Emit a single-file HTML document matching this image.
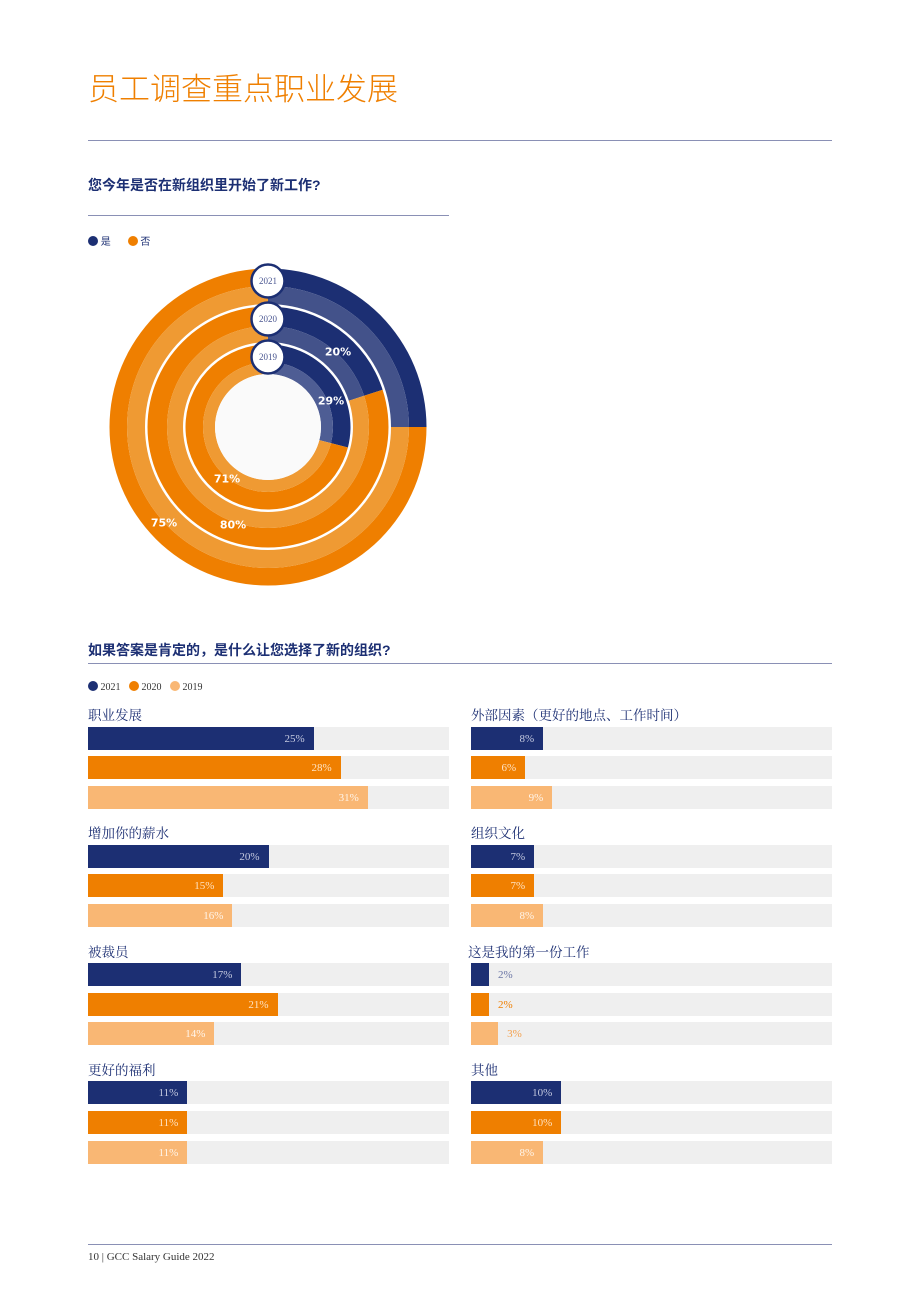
<!DOCTYPE html>
<html><head><meta charset="utf-8">
<style>
body{margin:0;background:#fff;}
#page{position:relative;width:920px;height:1302px;overflow:hidden;font-family:"Liberation Sans","Noto Sans CJK SC",sans-serif;}
.abs{position:absolute;}
.ser{font-family:"Liberation Serif","Noto Serif CJK SC",serif;}
</style></head><body>
<div id="page">
<div class="abs" style="left:88px;top:64px;font-size:31px;color:#ef7f00;font-family:'Liberation Sans','Noto Sans CJK SC',sans-serif;font-weight:300;">员工调查重点职业发展</div>
<div class="abs" style="left:88px;top:140px;width:744px;height:1px;background:#8a90b5;"></div>
<div class="abs" style="left:88px;top:175px;font-size:14px;font-weight:bold;color:#1c2f73;">您今年是否在新组织里开始了新工作?</div>
<div class="abs" style="left:88px;top:215px;width:361px;height:1px;background:#8a90b5;"></div>
<div class="abs" style="left:88px;top:233px;font-size:10px;color:#1c2f73;">
<span><span style="display:inline-block;width:10px;height:10px;border-radius:50%;background:#1c2f73;vertical-align:-1px;"></span> 是</span>
<span style="margin-left:14px;"><span style="display:inline-block;width:10px;height:10px;border-radius:50%;background:#ef7f00;vertical-align:-1px;"></span> 否</span>
</div>
<svg class="abs" id="donut" style="left:0;top:0;" width="920" height="620"></svg>

<div class="abs" style="left:88px;top:640px;font-size:14px;font-weight:bold;color:#1c2f73;">如果答案是肯定的，是什么让您选择了新的组织?</div>
<div class="abs" style="left:88px;top:663px;width:744px;height:1px;background:#8a90b5;"></div>
<div class="abs ser" style="left:88px;top:681px;font-size:10px;color:#333;">
<span><span style="display:inline-block;width:10px;height:10px;border-radius:50%;background:#1c2f73;vertical-align:-1px;"></span> 2021</span>
<span style="margin-left:6px;"><span style="display:inline-block;width:10px;height:10px;border-radius:50%;background:#ef7f00;vertical-align:-1px;"></span> 2020</span>
<span style="margin-left:6px;"><span style="display:inline-block;width:10px;height:10px;border-radius:50%;background:#f9b774;vertical-align:-1px;"></span> 2019</span>
</div>
<div id="bars"></div>

<div class="abs" style="left:88px;top:1244px;width:744px;height:1px;background:#8a90b5;"></div>
<div class="abs ser" style="left:88px;top:1251px;font-size:11px;color:#333;">10 | GCC Salary Guide 2022</div>
</div>
<script>
// Donut data
const donutYears = ["2021","2020","2019"];
const donutYes = [25,20,29];
const donutNo = [75,80,71];
// Bar data
const categories = ["职业发展","增加你的薪水","被裁员","更好的福利","外部因素（更好的地点、工作时间）","组织文化","这是我的第一份工作","其他"];
const values2021 = [25,20,17,11,8,7,2,10];
const values2020 = [28,15,21,11,6,7,2,10];
const values2019 = [31,16,14,11,9,8,3,8];

const NS="http://www.w3.org/2000/svg";
const svg=document.getElementById('donut');
const cx=268,cy=427;
const rings=[{o:158.5,m:141,i:123},{o:120.5,m:101,i:85},{o:82.5,m:65,i:53}];
function pt(r,f){const a=f*2*Math.PI-Math.PI/2;return [cx+r*Math.cos(a),cy+r*Math.sin(a)];}
function arc(ro,ri,f0,f1,col,name){
  const p=document.createElementNS(NS,'path');
  const large=(f1-f0)>0.5?1:0;
  const a=pt(ro,f0),b=pt(ro,f1),c=pt(ri,f1),d=pt(ri,f0);
  p.setAttribute('d',`M${a[0]},${a[1]}A${ro},${ro} 0 ${large} 1 ${b[0]},${b[1]}L${c[0]},${c[1]}A${ri},${ri} 0 ${large} 0 ${d[0]},${d[1]}Z`);
  p.setAttribute('fill',col);
  
  
  svg.appendChild(p);
}
function txt(x,y,s,size,col,name,fam,weight){
  const t=document.createElementNS(NS,'text');
  t.setAttribute('x',x);t.setAttribute('y',y);t.setAttribute('font-size',size);
  t.setAttribute('fill',col);t.setAttribute('text-anchor','middle');t.setAttribute('dominant-baseline','central');
  t.setAttribute('font-family',fam);if(weight)t.setAttribute('font-weight',weight);
  t.textContent=s;
  
  
  svg.appendChild(t);
}
const yesLbl=[[306,343],[338,352],[331,401]];
const noLbl=[[164,523],[233,525],[227,479]];
rings.forEach((r,k)=>{
  const fy=donutYes[k]/100;
  arc(r.o,r.m,0,fy,'#1c2f73','donut-yes-'+donutYears[k]+'-outer');
  arc(r.m,r.i,0,fy,k==2?'#4e5d94':'#43528a','donut-yes-'+donutYears[k]+'-inner');
  arc(r.o,r.m,fy,1,'#ef7f00','donut-no-'+donutYears[k]+'-outer');
  arc(r.m,r.i,fy,1,'#ef9a33','donut-no-'+donutYears[k]+'-inner');
  txt(yesLbl[k][0],yesLbl[k][1],donutYes[k]+'%',11,'#fff','donut-yes-label-'+donutYears[k],'DejaVu Sans','bold');
  txt(noLbl[k][0],noLbl[k][1],donutNo[k]+'%',11,'#fff','donut-no-label-'+donutYears[k],'DejaVu Sans','bold');
});
const hole=document.createElementNS(NS,'circle');
hole.setAttribute('cx',cx);hole.setAttribute('cy',cy);hole.setAttribute('r',53);hole.setAttribute('fill','#fafafa');


svg.appendChild(hole);
const badgeY=[281,319,357];
donutYears.forEach((y,k)=>{
  const c=document.createElementNS(NS,'circle');
  c.setAttribute('cx',268);c.setAttribute('cy',badgeY[k]);c.setAttribute('r',16.5);
  c.setAttribute('fill','#fff');c.setAttribute('stroke','#1c2f73');c.setAttribute('stroke-width','2.5');
  
  
  svg.appendChild(c);
  txt(268,badgeY[k],y,9,'#4a5690','year-badge-label-'+y,'Liberation Serif');
});

// Bars
const host=document.getElementById('bars');
const trackW=361, maxPct=40;
function xScale(v){return v/maxPct*trackW;}
const series=[{v:values2021,c:'#1c2f73',t:'#c5cae0',o:'#6a75a5'},{v:values2020,c:'#ef7f00',t:'#ffe3c2',o:'#ef7f00'},{v:values2019,c:'#f9b774',t:'#fff5ea',o:'#f3a04d'}];
categories.forEach((cat,i)=>{
  const col=i<4?0:1, row=i%4;
  const x=col?471:88, y=704+row*118.3;
  const g=document.createElement('div');
  g.className='abs';g.style.left=x+'px';g.style.top=y+'px';g.style.width=trackW+'px';g.style.height='110px';
  
  
  const lab=document.createElement('div');
  lab.className='abs';lab.style.cssText='left:0;top:0;font-size:13.5px;color:#1c2f73;white-space:nowrap;font-family:"Liberation Serif","Noto Serif CJK SC",serif;';
  if(i==6) lab.style.left='-3px';
  lab.textContent=cat;
  
  
  g.appendChild(lab);
  series.forEach((s,k)=>{
    const ty=22.5+k*29.7;
    const tr=document.createElement('div');
    tr.className='abs';tr.style.cssText=`left:0;top:${ty}px;width:${trackW}px;height:23px;background:#efefef;`;
    
    
    g.appendChild(tr);
    const w=xScale(s.v[i]);
    const b=document.createElement('div');
    b.className='abs';b.style.cssText=`left:0;top:${ty}px;width:${w}px;height:23px;background:${s.c};`;
    
    
    g.appendChild(b);
    const t=document.createElement('div');
    t.className='abs ser';
    const inside=w>35;
    t.style.cssText=`top:${ty}px;height:23px;line-height:25px;font-size:11px;color:${inside?s.t:s.o};`+(inside?`right:${trackW-w+9}px;`:`left:${w+9}px;`);
    t.textContent=s.v[i]+'%';
    
    
    g.appendChild(t);
  });
  host.appendChild(g);
});
</script>
</body></html>
